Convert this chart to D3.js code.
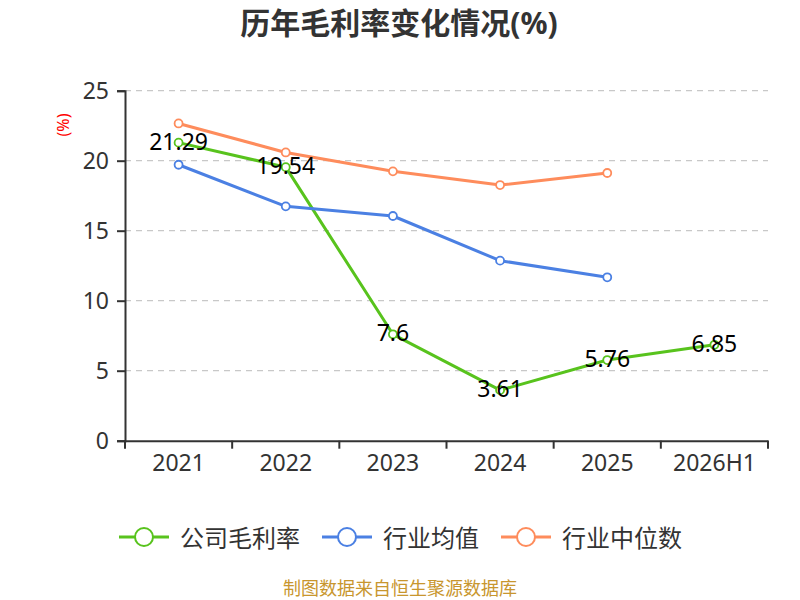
<!DOCTYPE html>
<html>
<head>
<meta charset="utf-8">
<script src="https://cdn.jsdelivr.net/npm/d3@7"></script>
<style>
  body { margin: 0; background: #fff; }
  text { font-family: "Noto Sans", "Noto Sans CJK SC", sans-serif; }
</style>
</head>
<body>
<div id="line_chart"></div>
<script>
// data
var years = ["2021", "2022", "2023", "2024", "2025", "2026H1"];
var company = [21.29, 19.54, 7.6, 3.61, 5.76, 6.85];
var industryAvg = [19.71, 16.74, 16.05, 12.86, 11.67, null];
var industryMedian = [22.66, 20.59, 19.24, 18.26, 19.12, null];
var yTicks = [0, 5, 10, 15, 20, 25];

var seriesNames = ["公司毛利率", "行业均值", "行业中位数"];
var seriesColors = ["#58c31d", "#4b80e3", "#fe8c5c"];
var seriesValues = [company, industryAvg, industryMedian];

// set the dimensions and margins of the graph
var W = 800, H = 600;
var margin = {top: 90.7, right: 32, bottom: 159.3, left: 125},
    width = W - margin.left - margin.right,
    height = H - margin.top - margin.bottom,
    title = '历年毛利率变化情况(%)';

var svg = d3.select("#line_chart")
  .append("svg")
    .attr("width", W)
    .attr("height", H);

var g = svg.append("g")
    .attr("transform", "translate(" + margin.left + "," + margin.top + ")");

// scales
var x = d3.scaleBand()
  .domain(years)
  .range([0, width]);

var y = d3.scaleLinear()
  .domain([0, 25])
  .range([height, 0]);

// grid lines
g.append("g")
  .selectAll("line")
  .data(yTicks.filter(function(d) { return d > 0; }))
  .enter()
  .append("line")
    .attr("x1", 0)
    .attr("x2", width)
    .attr("y1", function(d) { return y(d); })
    .attr("y2", function(d) { return y(d); })
    .attr("stroke", "#c8c8c8")
    .attr("stroke-width", 1.3)
    .attr("stroke-dasharray", "6,5");

// Y axis
var yAxis = g.append("g")
  .call(d3.axisLeft(y).tickValues(yTicks).tickSize(8).tickPadding(8));
yAxis.select(".domain").attr("stroke", "#333").attr("stroke-width", 2);
yAxis.selectAll(".tick line").attr("stroke", "#333").attr("stroke-width", 2);
yAxis.selectAll(".tick text")
  .attr("fill", "#333")
  .style("font-size", "23px");

// X axis (ticks on band boundaries)
var xAxis = g.append("g")
  .attr("transform", "translate(0," + height + ")")
  .call(d3.axisBottom(x).tickSize(0).tickPadding(14));
xAxis.select(".domain").attr("stroke", "#333").attr("stroke-width", 2);
xAxis.selectAll(".tick text")
  .attr("fill", "#333")
  .style("font-size", "23px");

g.append("g")
  .selectAll("line")
  .data(d3.range(years.length + 1))
  .enter()
  .append("line")
    .attr("x1", function(i) { return i * x.step(); })
    .attr("x2", function(i) { return i * x.step(); })
    .attr("y1", height)
    .attr("y2", height + 8)
    .attr("stroke", "#333")
    .attr("stroke-width", 2);

// unit label
svg.append("text")
  .attr("transform", "translate(63,125) rotate(-90)")
  .attr("text-anchor", "middle")
  .attr("dominant-baseline", "central")
  .attr("fill", "#f00")
  .style("font-size", "16px")
  .text("(%)");

// title
svg.append("text")
  .attr("x", 399)
  .attr("y", 34)
  .attr("text-anchor", "middle")
  .attr("fill", "#333")
  .style("font-size", "30px")
  .style("font-weight", "bold")
  .text(title);

// lines
var cx = function(i) { return x(years[i]) + x.bandwidth() / 2; };
var line = d3.line()
  .defined(function(d) { return d != null; })
  .x(function(d, i) { return cx(i); })
  .y(function(d) { return y(d); });

seriesValues.forEach(function(vals, s) {
  g.append("path")
    .datum(vals)
    .attr("fill", "none")
    .attr("stroke", seriesColors[s])
    .attr("stroke-width", 3)
    .attr("stroke-linejoin", "round")
    .attr("d", line);

  g.selectAll(".pt" + s)
    .data(vals.map(function(v, i) { return {v: v, i: i}; })
              .filter(function(d) { return d.v != null; }))
    .enter()
    .append("circle")
      .attr("class", "pt" + s)
      .attr("cx", function(d) { return cx(d.i); })
      .attr("cy", function(d) { return y(d.v); })
      .attr("r", 4)
      .attr("fill", "#fff")
      .attr("stroke", seriesColors[s])
      .attr("stroke-width", 1.8);
});

// value labels for company series
g.selectAll(".lbl")
  .data(company)
  .enter()
  .append("text")
    .attr("class", "lbl")
    .attr("x", function(d, i) { return cx(i); })
    .attr("y", function(d) { return y(d) - 2; })
    .attr("text-anchor", "middle")
    .attr("dominant-baseline", "central")
    .attr("fill", "#000")
    .style("font-size", "23px")
    .text(function(d) { return d; });

// legend
var legend = svg.append("g");
var lx = 0;
seriesNames.forEach(function(name, s) {
  var item = legend.append("g").attr("transform", "translate(" + lx + ",0)");
  item.append("line")
    .attr("x1", 0).attr("x2", 50)
    .attr("y1", 0).attr("y2", 0)
    .attr("stroke", seriesColors[s])
    .attr("stroke-width", 3);
  item.append("circle")
    .attr("cx", 25).attr("cy", 0).attr("r", 9)
    .attr("fill", "#fff")
    .attr("stroke", seriesColors[s])
    .attr("stroke-width", 2);
  var t = item.append("text")
    .attr("x", 61)
    .attr("y", 0)
    .attr("dominant-baseline", "central")
    .attr("fill", "#333")
    .style("font-size", "24px")
    .text(name);
  lx += 61 + t.node().getComputedTextLength() + 22;
});
lx -= 22;
legend.attr("transform", "translate(" + (400.5 - lx / 2) + ",537)");

// source note
svg.append("text")
  .attr("x", 400)
  .attr("y", 588)
  .attr("text-anchor", "middle")
  .attr("dominant-baseline", "central")
  .attr("fill", "#c8962e")
  .style("font-size", "18px")
  .text("制图数据来自恒生聚源数据库");
</script>
</body>
</html>
